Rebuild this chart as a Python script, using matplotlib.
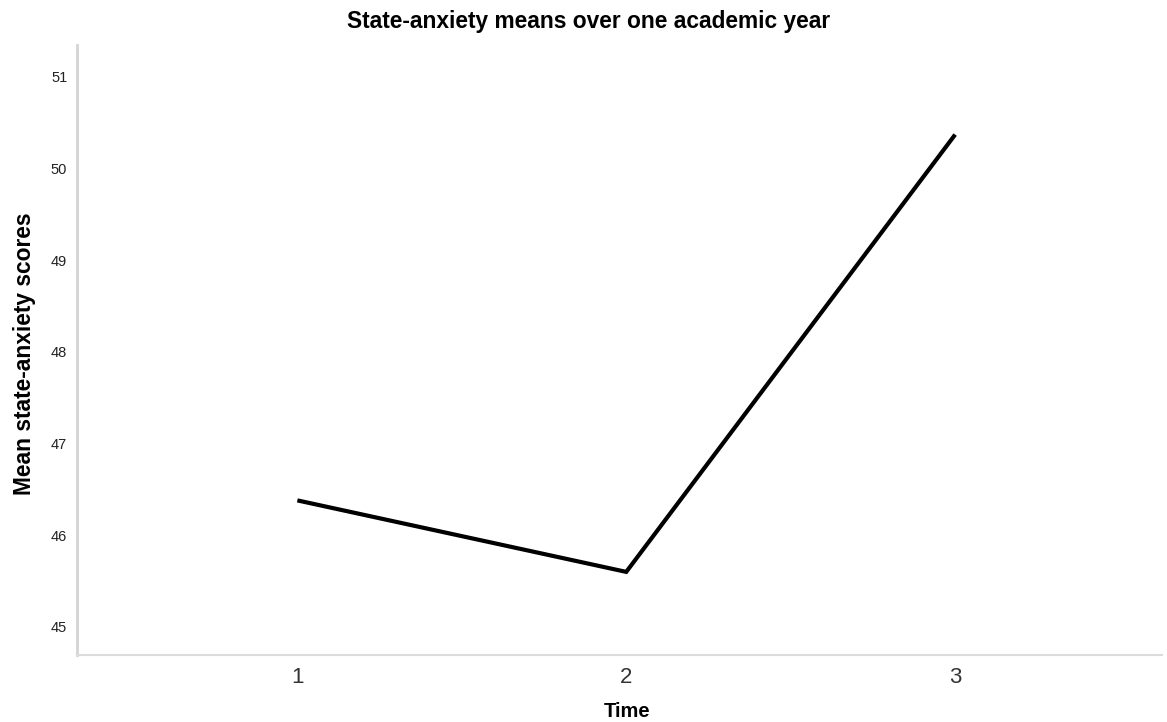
import numpy as np
import matplotlib.pyplot as plt

plt.rcParams["font.family"] = ["Liberation Sans", "DejaVu Sans"]

# Data
time_points = [1, 2, 3]
mean_scores = [46.38, 45.60, 50.37]
y_ticks = [45, 46, 47, 48, 49, 50, 51]

fig = plt.figure(figsize=(11.67, 7.22), dpi=100)
ax = fig.add_axes([0.066, 0.093, 0.93, 0.845])

ax.plot(time_points, mean_scores, color="black", linewidth=3.0,
        solid_joinstyle="miter", solid_capstyle="butt")

ax.set_xlim(0.33, 3.63)
ax.set_ylim(44.695, 51.35)
ax.set_xticks(time_points)
ax.set_xticklabels([str(t) for t in time_points], fontsize=16, color="#333333")
ax.set_yticks(y_ticks)
ax.set_yticklabels([str(v) for v in y_ticks], fontsize=10.5, color="#222222")
ax.tick_params(axis="both", length=0)
ax.tick_params(axis="x", pad=9)
ax.tick_params(axis="y", pad=7)

for side in ["top", "right"]:
    ax.spines[side].set_visible(False)
ax.spines["left"].set_color("#d4d4d4")
ax.spines["left"].set_linewidth(2.0)
ax.spines["bottom"].set_color("#dcdcdc")
ax.spines["bottom"].set_linewidth(1.5)

# axis titles and chart title placed in figure coordinates
fig.text(0.537, 0.007, "Time", ha="center", va="baseline",
         fontsize=14.5, fontweight="bold")
fig.text(0.021, 0.51, "Mean state-anxiety scores", ha="center", va="center",
         rotation=90, fontsize=16.4, fontweight="bold")
fig.text(0.5047, 0.961, "State-anxiety means over one academic year",
         ha="center", va="baseline", fontsize=16.4, fontweight="bold")

fig.savefig("out.png", dpi=100)
